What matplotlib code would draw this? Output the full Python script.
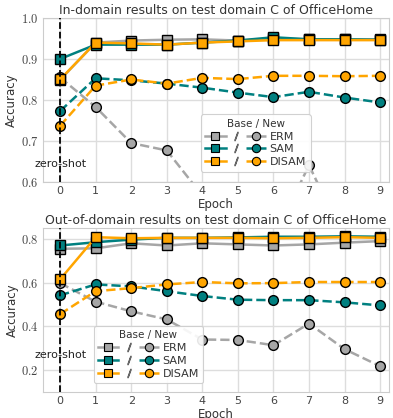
import matplotlib
matplotlib.use("Agg")
import matplotlib.pyplot as plt
from matplotlib.lines import Line2D
from matplotlib.legend_handler import HandlerTuple
from matplotlib.ticker import FuncFormatter

plt.rcParams['mathtext.fontset'] = 'cm'
plt.rcParams['font.family'] = ['DejaVu Sans']

epochs = [0, 1, 2, 3, 4, 5, 6, 7, 8, 9]
methods = ['ERM', 'SAM', 'DISAM']
colors = {'ERM': '#a6a6a6', 'SAM': '#008080', 'DISAM': '#ffa500'}

# in-domain (top)
in_base = {
    'ERM':   [0.849, 0.940, 0.945, 0.947, 0.948, 0.945, 0.950, 0.948, 0.948, 0.948],
    'SAM':   [0.900, 0.935, 0.935, 0.935, 0.940, 0.945, 0.953, 0.948, 0.948, 0.947],
    'DISAM': [0.850, 0.940, 0.938, 0.935, 0.940, 0.943, 0.946, 0.946, 0.946, 0.946],
}
in_new = {
    'ERM':   [0.855, 0.783, 0.695, 0.677, 0.567, 0.50, 0.46, 0.641, 0.46, 0.40],
    'SAM':   [0.773, 0.853, 0.848, 0.840, 0.830, 0.818, 0.807, 0.820, 0.806, 0.794],
    'DISAM': [0.737, 0.835, 0.850, 0.840, 0.854, 0.851, 0.859, 0.859, 0.858, 0.859],
}

# out-of-domain (bottom)
out_base = {
    'ERM':   [0.755, 0.757, 0.780, 0.770, 0.780, 0.775, 0.770, 0.775, 0.783, 0.790],
    'SAM':   [0.770, 0.785, 0.797, 0.805, 0.805, 0.807, 0.810, 0.810, 0.812, 0.810],
    'DISAM': [0.615, 0.808, 0.803, 0.805, 0.805, 0.805, 0.803, 0.805, 0.808, 0.805],
}
out_new = {
    'ERM':   [0.598, 0.513, 0.469, 0.432, 0.340, 0.338, 0.314, 0.413, 0.296, 0.218],
    'SAM':   [0.542, 0.592, 0.583, 0.561, 0.539, 0.522, 0.520, 0.520, 0.510, 0.496],
    'DISAM': [0.456, 0.561, 0.575, 0.592, 0.603, 0.597, 0.598, 0.603, 0.603, 0.603],
}

fig = plt.figure(figsize=(3.93, 4.18), dpi=100)
ax1 = fig.add_axes([43/393, 1-182/418, 346/393, 164/418])
ax2 = fig.add_axes([43/393, 1-392/418, 346/393, 164/418])


def draw(ax, base, new, title, ylim, yticks, zs_y, leg_pos):
    ax.grid(True, color='#dddddd', linewidth=1)
    ax.set_axisbelow(True)
    for s in ax.spines.values():
        s.set_color('#cccccc')
    for m in methods:
        ax.plot(epochs, base[m], '-', color=colors[m], lw=1.8, marker='s', ms=7,
                mfc=colors[m], mec='black', mew=1.0, zorder=3)
        ax.plot(epochs, new[m], '--', color=colors[m], lw=1.8, marker='o', ms=7,
                mfc=colors[m], mec='black', mew=1.0, zorder=3, clip_on=True)
    ax.axvline(0, color='black', ls='--', lw=1.3, zorder=4)
    ax.text(0, zs_y, 'zero-shot', ha='center', va='center', fontsize=8, color='#222222', zorder=5)
    ax.set_xlim(-0.48, 9.25)
    ax.set_ylim(*ylim)
    ax.set_xticks(epochs)
    ax.set_yticks(yticks)
    ax.yaxis.set_major_formatter(FuncFormatter(lambda v, p: '$%.1f$' % v))
    ax.tick_params(length=0, labelsize=9, colors='#444444', pad=3)
    ax.tick_params(axis='x', labelsize=8)
    ax.set_xlabel('Epoch', fontsize=8.5, color='#333333', labelpad=1)
    ax.set_ylabel('Accuracy', fontsize=8.5, color='#333333', labelpad=2)
    ax.set_title(title, fontsize=9, color='#333333', pad=3)

    handles = []
    for m in methods:
        b = Line2D([], [], color=colors[m], lw=1.8, marker='s', ms=6, mfc=colors[m], mec='black', mew=0.8)
        sl = Line2D([], [], color='#666666', marker='$/$', ms=6, ls='none')
        n = Line2D([], [], color=colors[m], lw=1.8, ls='--', marker='o', ms=6, mfc=colors[m], mec='black', mew=0.8)
        handles.append((b, sl, n))
    leg = ax.legend(handles, methods, handler_map={tuple: HandlerTuple(ndivide=None, pad=0.0)},
                    loc='lower left', bbox_to_anchor=leg_pos, fontsize=8, title='Base / New',
                    title_fontsize=7.5, handlelength=5.5, handletextpad=0.3, labelspacing=0.25,
                    borderpad=0.4, framealpha=0.9, edgecolor='#cccccc')
    leg.get_title().set_color('#333333')
    leg.get_frame().set_linewidth(0.8)
    for t in leg.get_texts():
        t.set_color('#333333')


draw(ax1, in_base, in_new, 'In-domain results on test domain C of OfficeHome',
     (0.6, 1.0), [0.6, 0.7, 0.8, 0.9, 1.0], 0.645, (0.44, 0.03))
draw(ax2, out_base, out_new, 'Out-of-domain results on test domain C of OfficeHome',
     (0.1, 0.85), [0.2, 0.4, 0.6, 0.8], 0.27, (0.13, 0.02))

fig.savefig('out.png', dpi=100)
